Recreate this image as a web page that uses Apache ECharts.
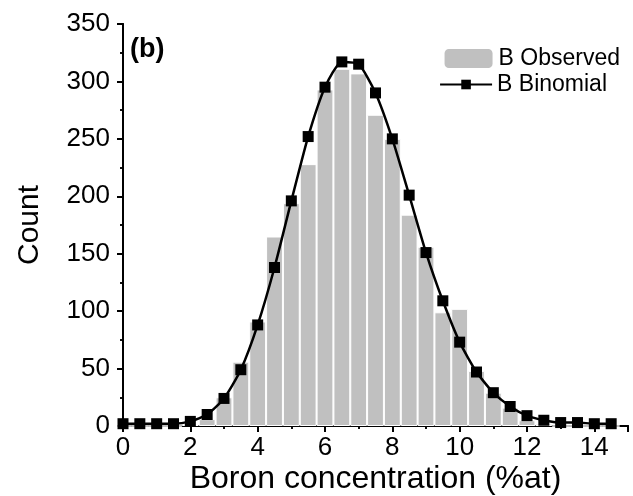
<!DOCTYPE html>
<html><head><meta charset="utf-8">
<script src="https://cdn.jsdelivr.net/npm/echarts@6/dist/echarts.min.js"></script>
<style>html,body{margin:0;padding:0;background:#fff}#c{width:633px;height:496px}</style>
</head><body><div id="c"></div>
<script>
const xs = [0,0.5,1,1.5,2,2.5,3,3.5,4,4.5,5,5.5,6,6.5,7,7.5,8,8.5,9,9.5,10,10.5,11,11.5,12,12.5,13,13.5,14,14.5];
const observed = [0,0,0,0,1,6,25,56,91,165,194,228,293,311,307,271,250,184,156,99,102,48,29,16,5,2,0,0,0,0];
const binomial = [2,2,2,2,4,10,24,49,88,138,196,252,295,317,315,290,250,201,151,109,73,47,29,17,9,5,3,3,2,2];
const xName = 'Boron concentration (%at)';
const yName = 'Count';
const seriesNames = ['B Observed','B Binomial'];

const W = 633, H = 496;
const grid = {left:123, right:5, top:24, bottom:70, containLabel:false, outerBoundsMode:'none'};
const gridW = W - grid.left - grid.right;
const barW = gridW / 15 * 0.5;
const FONT = 'Liberation Sans, Arial, sans-serif';

const chart = echarts.init(document.getElementById('c'));
const axLine = {show:true, lineStyle:{color:'#000', width:2}};
chart.setOption({
  animation:false,
  grid: grid,
  graphic:[{type:'text', left:130, top:36, style:{text:'(b)', font:'bold 27px '+FONT, fill:'#000'}}],
  legend:[
    {data:[seriesNames[0]], right:8, top:42, itemWidth:50, itemHeight:21, itemGap:6,
     textStyle:{fontFamily:FONT, fontSize:23, color:'#000'}},
    {data:[seriesNames[1]], right:21, top:68, itemWidth:52, itemHeight:12, itemGap:6,
     textStyle:{fontFamily:FONT, fontSize:23, color:'#000'}}
  ],
  xAxis:[{
    type:'value', min:0, max:15, interval:2, position:'bottom',
    name:xName, nameLocation:'middle', nameGap:37, nameMoveOverlap:false,
    nameTextStyle:{fontFamily:FONT, fontSize:32, color:'#000'},
    axisLine:axLine,
    axisTick:{show:true, length:6, lineStyle:{color:'#000', width:2}},
    minorTick:{show:true, splitNumber:2, length:3, lineStyle:{color:'#000', width:1.5}},
    axisLabel:{fontFamily:FONT, fontSize:26, color:'#000', margin:9, showMaxLabel:false,
      formatter:v => v > 14 ? '' : String(v)},
    splitLine:{show:false}
  },{
    type:'value', min:0, max:15, interval:2, position:'top',
    axisLine:axLine,
    axisTick:{show:true, inside:true, length:6, lineStyle:{color:'#000', width:2}},
    minorTick:{show:true, splitNumber:2, length:3, lineStyle:{color:'#000', width:1.5}},
    axisLabel:{show:false}, splitLine:{show:false}
  }],
  yAxis:[{
    type:'value', min:0, max:350, interval:50, position:'left',
    name:yName, nameLocation:'middle', nameGap:78, nameMoveOverlap:false,
    nameTextStyle:{fontFamily:FONT, fontSize:30, color:'#000'},
    axisLine:axLine,
    axisTick:{show:true, length:6, lineStyle:{color:'#000', width:2}},
    minorTick:{show:true, splitNumber:2, length:3, lineStyle:{color:'#000', width:1.5}},
    axisLabel:{fontFamily:FONT, fontSize:26, color:'#000', margin:13},
    splitLine:{show:false}
  },{
    type:'value', min:0, max:350, interval:50, position:'right',
    axisLine:axLine,
    axisTick:{show:true, inside:true, length:6, lineStyle:{color:'#000', width:2}},
    minorTick:{show:true, splitNumber:2, length:3, lineStyle:{color:'#000', width:1.5}},
    axisLabel:{show:false}, splitLine:{show:false}
  }],
  series:[{
    name:seriesNames[0], type:'bar', xAxisIndex:0, yAxisIndex:0,
    data: xs.map((x,i)=>[x, observed[i]]),
    barWidth: barW,
    itemStyle:{color:'#c0c0c0', borderColor:'#fff', borderWidth:1},
    z:1
  },{
    name:seriesNames[1], type:'line', xAxisIndex:0, yAxisIndex:0,
    data: xs.map((x,i)=>[x, binomial[i]]),
    symbol:'rect', symbolSize:11, smooth:0.2,
    lineStyle:{color:'#000', width:2.5},
    itemStyle:{color:'#000'},
    z:3
  }]
});
</script></body></html>
